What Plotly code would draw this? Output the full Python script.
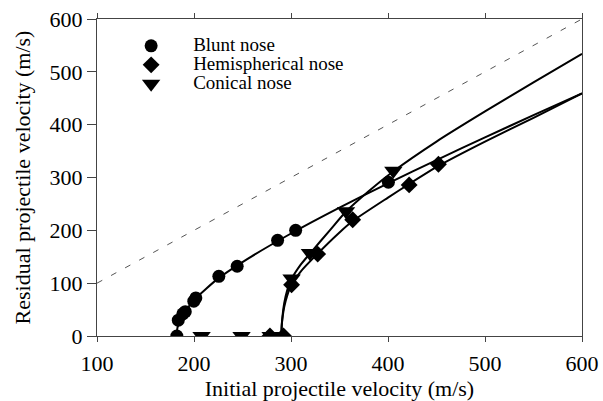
import plotly.graph_objects as go

# measured points
blunt_x = [182.3, 183.8, 188.5, 191.0, 199.8, 201.9, 225.6, 244.5, 286.2, 304.8, 400.4]
blunt_y = [0, 30, 42, 46, 66, 72, 113, 132, 181, 200, 291]
hemi_x = [278.3, 292.3, 300.6, 327.5, 363.6, 421.8, 452.0]
hemi_y = [0, 0, 97, 155, 220, 286, 325]
conical_x = [207.8, 249.0, 279.0, 300.6, 319.5, 356.7, 405.5]
conical_y = [0, 0, 0, 109, 157, 236, 313]

# fitted curves
blunt_fit_x = [182, 183, 186, 190, 200, 225, 250, 300, 350, 400, 450, 500, 550, 600]
blunt_fit_y = [0, 16, 31, 44, 68, 109, 140, 194, 243, 289, 333, 376, 418, 459]
hemi_fit_x = [290, 290.5, 291.5, 293, 296, 300, 310, 327, 350, 364, 400, 422, 452, 500, 550, 600]
hemi_fit_y = [0, 20, 38, 55, 76, 95, 122, 155, 196, 218, 262, 288, 322, 368, 413, 459]
con_fit_x = [290, 290.5, 291.5, 293, 296, 300, 310, 320, 340, 357, 380, 405, 450, 500, 550, 600]
con_fit_y = [0, 22, 42, 62, 86, 106, 135, 157, 200, 236, 274, 311, 368, 425, 480, 534]

ref_x = [100, 600]
ref_y = [100, 600]

FONT = "Liberation Serif"


def leg(txt):
    return '<span style="font-size:19px">' + txt + "</span>"


fig = go.Figure()
fig.add_trace(go.Scatter(x=ref_x, y=ref_y, mode="lines", showlegend=False,
                         line=dict(color="#555555", width=1, dash="6px,10px")))
for fx, fy in [(blunt_fit_x, blunt_fit_y), (hemi_fit_x, hemi_fit_y), (con_fit_x, con_fit_y)]:
    fig.add_trace(go.Scatter(x=fx, y=fy, mode="lines", showlegend=False,
                             line=dict(color="black", width=2, shape="spline", smoothing=0.6)))

fig.add_trace(go.Scatter(x=blunt_x, y=blunt_y, mode="markers", name=leg("Blunt nose"),
                         marker=dict(symbol="circle", size=13, color="black")))
fig.add_trace(go.Scatter(x=hemi_x, y=hemi_y, mode="markers", name=leg("Hemispherical nose"),
                         marker=dict(symbol="diamond", size=13, color="black")))
fig.add_trace(go.Scatter(x=conical_x, y=conical_y, mode="markers", name=leg("Conical nose"),
                         marker=dict(symbol="triangle-down", size=16, color="black")))

fig.update_layout(
    width=603, height=401,
    margin=dict(l=97, r=21, t=19, b=65),
    paper_bgcolor="white", plot_bgcolor="white",
    font=dict(family=FONT, size=22, color="black"),
    showlegend=True,
    legend=dict(x=0.025, y=0.961, xanchor="left", yanchor="top",
                bgcolor="rgba(0,0,0,0)", font=dict(family=FONT, size=12),
                itemwidth=74, tracegroupgap=0),
    xaxis=dict(range=[100, 600], dtick=100, tick0=100, showgrid=False, zeroline=False,
               automargin=False,
               showline=True, linecolor="#444444", linewidth=1, mirror="ticks",
               ticks="outside", ticklen=5, tickcolor="#444444",
               ticklabelstandoff=3,
               title=dict(text="Initial projectile velocity (m/s)", standoff=5,
                          font=dict(family=FONT, size=22))),
    yaxis=dict(range=[0, 600], dtick=100, showgrid=False, zeroline=False,
               automargin=False,
               showline=True, linecolor="#444444", linewidth=1, mirror=True,
               ticks="outside", ticklen=9, tickcolor="#444444",
               title=dict(text="Residual projectile velocity (m/s)", standoff=12,
                          font=dict(family=FONT, size=22))),
)

fig.write_html("out.html")
